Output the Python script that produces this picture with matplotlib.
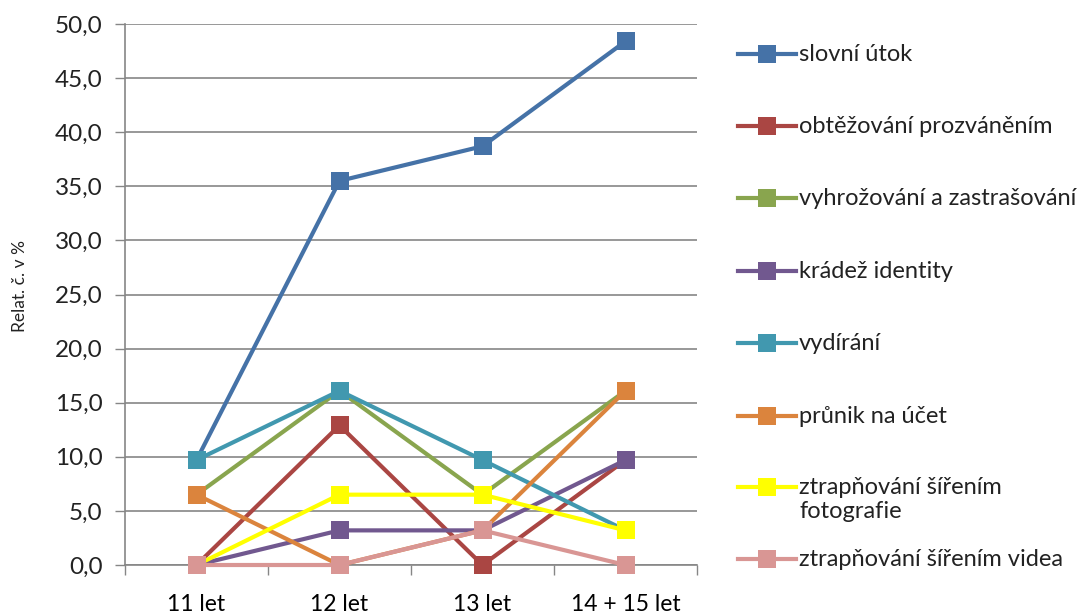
import matplotlib
matplotlib.use("Agg")
import matplotlib.pyplot as plt
from matplotlib.lines import Line2D
from matplotlib.ticker import FuncFormatter, FixedLocator

plt.rcParams['font.family'] = ['Lato', 'DejaVu Sans']

categories = ["11 let", "12 let", "13 let", "14 + 15 let"]

slovni_utok = [9.7, 35.5, 38.7, 48.4]
obtezovani_prozvanenim = [0.0, 12.9, 0.0, 9.7]
vyhrozovani = [6.5, 16.1, 6.5, 16.1]
kradez_identity = [0.0, 3.2, 3.2, 9.7]
vydirani = [9.7, 16.1, 9.7, 3.2]
prunik_na_ucet = [6.5, 0.0, 3.2, 16.1]
ztrapnovani_foto = [0.0, 6.5, 6.5, 3.2]
ztrapnovani_video = [0.0, 0.0, 3.2, 0.0]

series_labels = [
    "slovní útok",
    "obtěžování prozváněním",
    "vyhrožování a zastrašování",
    "krádež identity",
    "vydírání",
    "průnik na účet",
    "ztrapňování šířením\nfotografie",
    "ztrapňování šířením videa",
]
series_values = [
    slovni_utok, obtezovani_prozvanenim, vyhrozovani, kradez_identity,
    vydirani, prunik_na_ucet, ztrapnovani_foto, ztrapnovani_video,
]
colors = ["#4572A7", "#AA4643", "#89A54E", "#71588F",
          "#4198AF", "#DB843D", "#FFFF00", "#D99694"]

W, H = 1079, 614
fig = plt.figure(figsize=(W / 100, H / 100), dpi=100)
left, right, top, bottom = 125, 697, 24, 565
ax = fig.add_axes([left / W, (H - bottom) / H, (right - left) / W, (bottom - top) / H])

x = list(range(len(categories)))
# later series are drawn over earlier ones
for i, (vals, col) in enumerate(zip(series_values, colors)):
    ax.plot(x, vals, color=col, lw=3.0, marker="s", markersize=13,
            markeredgewidth=0, solid_joinstyle="miter", clip_on=False, zorder=3 + i * 0.1)

ax.set_xlim(-0.5, len(categories) - 0.5)
ax.set_ylim(0, 50)
ax.set_yticks([i * 5 for i in range(11)])
ax.yaxis.set_major_formatter(FuncFormatter(lambda v, p: f"{v:.1f}".replace(".", ",")))
ax.set_xticks(x)
ax.set_xticklabels(categories)
ax.xaxis.set_minor_locator(FixedLocator([i - 0.5 for i in range(len(categories) + 1)]))
ax.tick_params(axis="x", which="major", length=0, pad=21, labelsize=16.5, colors="black")
ax.tick_params(axis="x", which="minor", length=7, width=1, color="#868686")
ax.tick_params(axis="y", length=7, width=1, color="#868686", pad=9, labelsize=17.5,
               labelcolor="#222222")

ax.grid(axis="y", color="#868686", lw=1.2, zorder=0)
ax.set_axisbelow(True)
for s in ("top", "right"):
    ax.spines[s].set_visible(False)
for s in ("left", "bottom"):
    ax.spines[s].set_color("#868686")
    ax.spines[s].set_linewidth(1.2)

fig.text(20 / W, 1 - 286 / H, "Relat. č. v %", rotation=90, ha="center", va="center",
         fontsize=12.5, color="#222222")

# legend panel in pixel coordinates
lax = fig.add_axes([0, 0, 1, 1])
lax.set_xlim(0, W)
lax.set_ylim(H, 0)
lax.axis("off")
legend_y = [54, 126, 198, 271, 343, 416, 487, 559]
for lab, col, yy in zip(series_labels, colors, legend_y):
    lax.add_line(Line2D([738, 796], [yy, yy], color=col, lw=3.0))
    lax.add_line(Line2D([767], [yy], color=col, marker="s", markersize=13,
                        markeredgewidth=0))
    lax.text(799, yy - 10, lab, va="top", ha="left", fontsize=17,
             color="#222222", linespacing=1.2)

fig.savefig("out.png", dpi=100)
